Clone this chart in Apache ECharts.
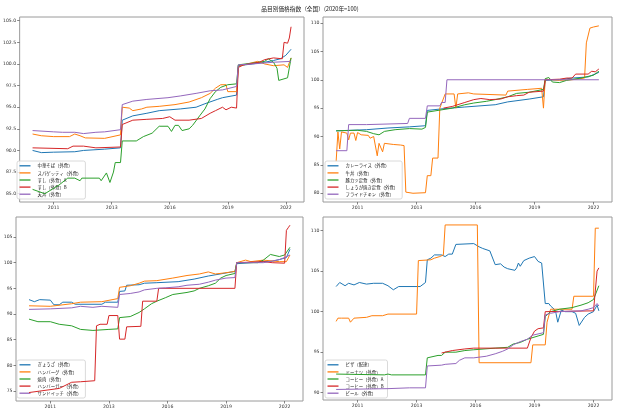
<!DOCTYPE html>
<html><head><meta charset="utf-8">
<script src="https://cdn.jsdelivr.net/npm/echarts@6/dist/echarts.min.js"></script>
<style>html,body{margin:0;padding:0;background:#fff}#c{width:620px;height:413px}</style>
</head><body><div id="c"></div>
<script>
// ---- tick labels ----
const xTickMonths = [12, 45, 78, 111, 144];
const xTickLabels = ['2011', '2013', '2016', '2019', '2022'];
const yTicks1 = [85, 87.5, 90, 92.5, 95, 97.5, 100, 102.5, 105];
const yTicks2 = [80, 85, 90, 95, 100, 105, 110];
const yTicks3 = [75, 80, 85, 90, 95, 100, 105];
const yTicks4 = [90, 95, 100, 105, 110];
const title = '品目別価格指数（全国）(2020年=100)';

// ---- panel 1 ----
const names1 = ['中華そば（外食）', 'スパゲッティ（外食）', 'すし（外食）A', 'すし（外食）B', '天丼（外食）'];
const chukasoba = [['2010-01',90.0],['2010-06',89.75],['2011-01',89.8],['2012-01',89.85],['2012-06',90.0],['2013-06',90.15],['2014-03',90.3],['2014-04',93.5],['2014-10',94.0],['2015-06',94.3],['2016-01',94.6],['2017-01',94.8],['2017-10',95.0],['2018-03',95.4],['2018-10',95.9],['2019-01',96.1],['2019-09',96.4],['2019-10',99.8],['2020-06',100.0],['2021-01',100.2],['2021-06',100.4],['2021-10',100.6],['2022-01',101.0],['2022-04',101.7]];
const spaghetti = [['2010-01',91.9],['2010-06',91.7],['2011-01',91.6],['2011-10',91.6],['2012-01',91.9],['2012-04',91.7],['2012-07',91.45],['2013-06',91.4],['2014-03',91.8],['2014-04',95.0],['2014-08',94.9],['2014-10',94.6],['2015-03',94.8],['2015-06',95.0],['2016-01',95.1],['2016-10',95.3],['2017-06',95.6],['2018-01',96.1],['2018-06',96.6],['2018-09',97.2],['2018-12',97.6],['2019-03',97.6],['2019-04',96.8],['2019-09',96.8],['2019-10',99.7],['2020-03',100.0],['2020-09',100.3],['2021-01',100.0],['2021-06',99.8],['2021-12',99.9],['2022-02',99.6],['2022-04',100.7]];
const sushiA = [['2010-01',85.5],['2010-08',85.0],['2011-04',86.0],['2011-09',86.8],['2012-01',86.8],['2012-04',86.5],['2012-05',86.8],['2013-03',86.8],['2013-04',86.5],['2013-07',87.4],['2013-09',86.3],['2013-11',87.5],['2013-12',88.6],['2014-03',88.6],['2014-04',91.1],['2014-12',91.1],['2015-04',91.6],['2015-09',92.0],['2016-01',92.8],['2016-06',92.8],['2016-08',92.2],['2016-10',92.9],['2016-12',92.9],['2017-02',92.3],['2017-06',92.5],['2017-08',92.9],['2017-12',94.0],['2018-03',94.8],['2018-06',96.0],['2018-09',96.8],['2018-12',97.3],['2019-04',97.6],['2019-09',97.7],['2019-10',99.9],['2020-06',100.1],['2021-01',100.3],['2021-03',100.6],['2021-06',100.2],['2021-08',99.5],['2021-09',98.1],['2021-10',98.3],['2022-02',98.4],['2022-04',100.7]];
const sushiB = [['2010-01',90.3],['2011-09',90.2],['2011-12',90.5],['2012-06',90.5],['2013-01',90.3],['2014-03',90.4],['2014-04',93.0],['2014-10',93.5],['2015-06',93.6],['2016-03',93.7],['2016-07',93.9],['2016-10',93.5],['2017-06',93.5],['2018-01',93.7],['2018-06',94.3],['2018-09',94.6],['2019-01',95.0],['2019-03',94.7],['2019-06',95.0],['2019-09',94.9],['2019-10',99.6],['2020-01',99.9],['2020-10',100.2],['2021-01',100.5],['2021-06',100.7],['2021-11',100.6],['2021-12',102.5],['2022-01',102.3],['2022-02',102.4],['2022-03',103.0],['2022-04',104.3]];
const tendon = [['2010-01',92.3],['2011-01',92.15],['2011-06',92.1],['2012-01',92.1],['2012-06',91.95],['2013-01',92.1],['2013-06',92.15],['2014-03',92.4],['2014-04',95.3],['2014-10',95.7],['2015-06',95.9],['2016-06',96.1],['2017-01',96.3],['2017-10',96.6],['2018-06',96.9],['2019-01',97.0],['2019-09',97.4],['2019-10',99.9],['2020-06',100.0],['2021-06',100.2],['2022-04',100.3]];

// ---- panel 2 ----
const names2 = ['カレーライス（外食）', '牛丼（外食）', '豚カツ定食（外食）', 'しょうが焼き定食（外食）', 'フライドチキン（外食）'];
const curry = [['2010-01',91.0],['2011-06',91.2],['2012-06',91.5],['2013-06',91.7],['2014-03',91.9],['2014-04',94.6],['2015-01',94.9],['2016-01',95.2],['2017-06',95.6],['2018-01',96.1],['2019-01',96.6],['2019-09',97.0],['2019-10',99.9],['2020-06',100.0],['2021-01',100.3],['2021-10',100.5],['2022-04',101.3]];
const gyudon = [['2010-01',85.6],['2010-02',90.8],['2010-03',87.8],['2010-04',90.8],['2010-07',90.6],['2010-08',89.4],['2010-09',90.6],['2010-11',90.6],['2010-12',89.3],['2011-01',90.7],['2011-03',90.3],['2011-07',90.2],['2011-08',89.7],['2011-10',90.0],['2011-11',89.9],['2011-12',86.6],['2012-01',88.8],['2012-02',88.8],['2012-03',87.3],['2012-04',88.8],['2012-09',88.6],['2013-01',88.5],['2013-03',88.4],['2013-04',80.2],['2013-08',80.0],['2014-03',80.1],['2014-04',83.1],['2014-06',83.1],['2014-07',86.2],['2014-10',86.2],['2014-11',95.0],['2014-12',95.3],['2015-02',97.5],['2015-07',97.5],['2015-08',95.0],['2015-09',97.5],['2016-03',97.7],['2016-06',97.5],['2016-07',97.2],['2017-12',97.3],['2018-01',98.0],['2018-12',98.3],['2019-01',98.5],['2019-08',98.5],['2019-09',95.0],['2019-10',100.1],['2020-06',99.9],['2021-01',100.0],['2021-08',100.3],['2021-09',106.5],['2021-10',106.6],['2021-11',109.1],['2022-01',109.3],['2022-04',109.5]];
const tonkatsu = [['2010-01',91.0],['2011-01',91.1],['2011-06',90.9],['2011-10',90.5],['2012-01',90.3],['2012-04',90.9],['2012-10',91.2],['2013-06',91.4],['2014-01',91.3],['2014-03',91.6],['2014-04',94.3],['2014-10',94.6],['2015-06',95.0],['2016-01',95.6],['2016-06',95.9],['2017-01',96.2],['2017-06',96.5],['2018-01',97.0],['2018-06',97.6],['2019-01',97.8],['2019-09',98.3],['2019-10',100.2],['2019-12',100.4],['2020-01',100.7],['2020-02',99.6],['2020-06',99.5],['2020-10',99.9],['2021-06',100.3],['2022-01',100.8],['2022-04',101.5]];
const shogayaki = [['2015-01',95.0],['2015-06',95.3],['2016-01',96.0],['2016-06',96.5],['2016-10',96.7],['2017-03',96.5],['2017-09',96.6],['2018-01',97.0],['2018-06',97.2],['2018-10',97.3],['2019-01',97.8],['2019-09',98.0],['2019-10',100.0],['2020-06',100.1],['2020-10',100.3],['2021-01',100.3],['2021-03',101.0],['2021-10',101.0],['2021-12',101.5],['2022-02',101.4],['2022-04',101.9]];
const friedChicken = [['2010-01',87.5],['2010-07',87.5],['2010-08',92.1],['2011-06',92.1],['2013-05',92.3],['2013-06',93.2],['2014-03',93.2],['2014-04',95.4],['2014-11',95.4],['2014-12',96.0],['2015-02',96.0],['2015-03',100.0],['2022-04',100.0]];

// ---- panel 3 ----
const names3 = ['ぎょうざ（外食）', 'ハンバーグ（外食）', '焼肉（外食）', 'ハンバーガー（外食）', 'サンドイッチ（外食）'];
const gyoza = [['2010-01',92.8],['2010-04',92.4],['2010-07',92.8],['2011-01',92.7],['2011-03',91.8],['2011-06',91.8],['2011-08',92.3],['2012-01',92.3],['2012-03',91.9],['2013-06',91.9],['2013-08',92.3],['2014-03',92.3],['2014-04',94.4],['2014-07',94.5],['2014-08',95.6],['2015-03',95.7],['2015-06',96.0],['2016-01',96.1],['2017-01',96.3],['2017-10',96.8],['2018-06',97.4],['2019-09',98.3],['2019-10',99.8],['2020-06',100.0],['2021-06',100.3],['2021-10',100.6],['2022-02',101.0],['2022-04',102.6]];
const hamburg = [['2010-01',91.6],['2011-01',91.5],['2012-01',92.0],['2012-06',92.3],['2013-06',92.4],['2014-03',93.0],['2014-04',95.2],['2014-10',95.5],['2015-03',96.0],['2015-06',96.4],['2016-01',96.5],['2016-10',97.0],['2017-06',97.5],['2018-01',97.8],['2018-06',98.2],['2018-10',97.8],['2019-03',98.0],['2019-09',98.3],['2019-10',100.0],['2020-03',100.5],['2020-06',100.2],['2021-01',100.5],['2021-10',100.2],['2022-02',100.2],['2022-04',101.5]];
const yakiniku = [['2010-01',89.0],['2010-06',88.5],['2011-01',88.5],['2011-06',88.0],['2012-01',87.7],['2012-06',87.0],['2013-01',86.8],['2013-10',87.0],['2014-03',87.1],['2014-04',89.3],['2014-10',89.5],['2015-03',90.3],['2015-06',91.0],['2015-10',92.0],['2016-01',92.5],['2016-06',93.2],['2016-10',93.8],['2017-06',94.2],['2017-10',94.5],['2018-01',95.0],['2018-06',95.5],['2018-10',96.0],['2019-01',97.0],['2019-04',97.5],['2019-09',97.9],['2019-10',100.0],['2020-10',100.0],['2021-01',100.5],['2021-05',101.6],['2021-10',101.2],['2022-01',101.5],['2022-04',103.0]];
const hamburger = [['2010-01',74.7],['2011-06',75.5],['2012-01',76.7],['2012-06',76.8],['2013-02',77.0],['2013-03',87.7],['2013-05',88.0],['2013-09',88.0],['2013-10',89.7],['2014-03',89.7],['2014-04',85.1],['2014-07',85.1],['2014-08',87.5],['2015-04',87.6],['2015-05',92.5],['2016-01',92.5],['2016-02',95.0],['2019-09',95.0],['2019-10',100.0],['2021-01',100.2],['2021-06',100.0],['2022-01',99.9],['2022-02',106.3],['2022-03',106.8],['2022-04',107.3]];
const sandwich = [['2010-01',90.9],['2011-01',91.0],['2012-01',91.2],['2012-06',91.5],['2013-01',91.3],['2013-06',91.5],['2014-03',91.3],['2014-04',93.8],['2014-10',94.0],['2015-03',94.3],['2015-06',94.7],['2016-01',95.0],['2016-06',95.1],['2017-01',95.3],['2017-06',95.6],['2018-01',95.8],['2018-06',96.2],['2018-10',96.6],['2019-04',97.0],['2019-09',97.1],['2019-10',100.0],['2021-01',100.0],['2021-06',100.3],['2021-10',100.6],['2022-01',101.0],['2022-04',101.5]];

// ---- panel 4 ----
const names4 = ['ピザ（配達）', 'ドーナツ（外食）', 'コーヒー（外食）A', 'コーヒー（外食）B', 'ビール（外食）'];
const pizza = [['2010-01',103.1],['2010-03',103.6],['2010-06',103.2],['2010-08',103.5],['2010-11',103.3],['2011-02',103.6],['2011-06',103.4],['2011-10',103.5],['2012-03',103.5],['2012-06',103.2],['2012-09',102.7],['2012-12',103.1],['2013-12',103.1],['2014-01',103.0],['2014-03',103.6],['2014-04',106.4],['2014-06',106.6],['2014-08',107.0],['2014-12',107.0],['2015-02',106.8],['2015-04',107.1],['2015-06',107.1],['2015-08',108.3],['2016-06',108.4],['2016-09',108.0],['2016-11',107.8],['2017-03',107.5],['2017-06',105.8],['2017-09',105.9],['2017-11',105.5],['2018-01',105.3],['2018-05',105.1],['2018-06',105.4],['2018-07',106.0],['2018-08',105.6],['2018-10',106.3],['2019-01',106.6],['2019-04',106.8],['2019-05',107.0],['2019-06',106.2],['2019-08',106.0],['2019-10',101.0],['2019-12',101.0],['2020-01',100.7],['2020-03',100.3],['2020-04',99.8],['2020-05',98.7],['2020-07',100.2],['2020-09',100.0],['2021-01',100.0],['2021-03',99.8],['2021-05',98.3],['2021-08',99.3],['2021-10',99.7],['2022-01',100.0],['2022-03',100.8],['2022-04',100.1]];
const donut = [['2010-01',98.8],['2010-02',99.2],['2010-03',99.0],['2010-04',99.2],['2010-08',99.2],['2010-09',98.7],['2010-11',99.2],['2011-06',99.3],['2011-07',99.5],['2011-09',99.5],['2011-10',99.4],['2012-03',99.5],['2012-06',99.7],['2013-10',99.7],['2013-11',106.3],['2014-06',106.4],['2014-08',106.6],['2014-11',106.8],['2015-01',107.0],['2015-02',110.7],['2016-08',110.7],['2016-09',93.7],['2019-02',93.7],['2019-03',95.9],['2019-10',95.9],['2019-11',98.7],['2019-12',98.9],['2020-01',100.3],['2021-01',100.3],['2021-02',101.9],['2022-01',101.9],['2022-02',110.3],['2022-04',110.3]];
const coffeeA = [['2010-01',92.3],['2012-04',92.2],['2012-06',92.3],['2012-08',92.2],['2014-03',92.2],['2014-04',94.3],['2014-10',94.6],['2014-12',94.6],['2015-02',95.0],['2015-08',95.0],['2016-01',95.2],['2016-06',95.3],['2017-06',95.5],['2018-01',95.6],['2018-04',96.0],['2018-08',96.2],['2018-12',96.6],['2019-06',97.0],['2019-09',97.2],['2019-10',99.4],['2020-01',100.0],['2020-06',100.3],['2021-01',100.5],['2021-06',100.8],['2021-10',101.1],['2022-01',101.5],['2022-04',103.2]];
const coffeeB = [['2014-12',94.9],['2015-06',95.2],['2016-01',95.4],['2016-06',95.5],['2018-12',95.5],['2019-02',96.8],['2019-04',97.6],['2019-06',97.9],['2019-09',98.0],['2019-10',100.0],['2022-01',100.1],['2022-02',100.3],['2022-03',105.0],['2022-04',105.4]];
const beer = [['2010-01',90.4],['2012-06',90.5],['2013-06',90.6],['2014-03',90.6],['2014-04',93.3],['2014-12',93.4],['2015-02',93.5],['2015-08',93.6],['2015-10',94.0],['2016-01',94.3],['2016-06',94.3],['2017-01',94.5],['2017-06',94.8],['2017-10',95.1],['2018-01',95.4],['2018-04',95.9],['2018-08',96.3],['2018-12',96.6],['2019-03',97.1],['2019-09',97.4],['2019-10',99.6],['2020-01',99.8],['2020-06',100.0],['2021-06',100.1],['2021-10',100.3],['2022-01',100.5],['2022-03',101.0],['2022-04',100.7]];

// ---------------- build ----------------
const colors = ['#1f77b4', '#ff7f0e', '#2ca02c', '#d62728', '#9467bd'];
function toIdx(s) { const p = s.split('-'); return (parseInt(p[0]) - 2010) * 12 + (parseInt(p[1]) - 1); }
function conv(arr) { return arr.map(d => [toIdx(d[0]), d[1]]); }

const panels = [
  { names: names1, data: [chukasoba, spaghetti, sushiA, sushiB, tendon], yTicks: yTicks1, yMin: 84.04, yMax: 105.43, dec: 1,
    grid: { left: 16, top: 17, width: 288, height: 185 }, legend: { left: 17, top: 161 } },
  { names: names2, data: [curry, gyudon, tonkatsu, shogayaki, friedChicken], yTicks: yTicks2, yMin: 78.46, yMax: 111.06, dec: 0,
    grid: { left: 323, top: 17, width: 289, height: 185 }, legend: { left: 325, top: 161 } },
  { names: names3, data: [gyoza, hamburg, yakiniku, hamburger, sandwich], yTicks: yTicks3, yMin: 73.05, yMax: 108.9, dec: 0,
    grid: { left: 16, top: 217, width: 287, height: 184 }, legend: { left: 17, top: 360 } },
  { names: names4, data: [pizza, donut, coffeeA, coffeeB, beer], yTicks: yTicks4, yMin: 89.1, yMax: 111.68, dec: 0,
    grid: { left: 323, top: 217, width: 289, height: 183 }, legend: { left: 325, top: 360 } }
];

const font = 'DejaVu Sans';
const cjk = '"Noto Sans CJK JP", "DejaVu Sans"';
const option = {
  animation: false,
  backgroundColor: '#fff',
  title: { text: title, left: 'center', top: 1, textStyle: { fontSize: 5.7, fontWeight: 'normal', color: '#222', fontFamily: cjk } },
  grid: [], xAxis: [], yAxis: [], series: [], legend: []
};
panels.forEach((p, i) => {
  option.grid.push(Object.assign({ show: true, borderColor: '#9a9a9a', borderWidth: 1, backgroundColor: 'transparent' }, p.grid));
  option.xAxis.push({
    type: 'value', gridIndex: i, min: -7.35, max: 154.35, position: 'bottom',
    splitLine: { show: false }, axisLine: { show: false, onZero: false },
    axisTick: { show: true, length: 2.5, lineStyle: { color: '#666', width: 0.8 }, customValues: xTickMonths },
    axisLabel: { fontSize: 4.6, color: '#333', fontFamily: font, margin: 3.5, customValues: xTickMonths,
      formatter: v => { const k = xTickMonths.indexOf(Math.round(v)); return k >= 0 ? xTickLabels[k] : ''; } }
  });
  option.yAxis.push({
    type: 'value', gridIndex: i, min: p.yMin, max: p.yMax, position: 'left',
    splitLine: { show: false }, axisLine: { show: false, onZero: false },
    axisTick: { show: true, length: 2.5, lineStyle: { color: '#666', width: 0.8 }, customValues: p.yTicks },
    axisLabel: { fontSize: 4.6, color: '#333', fontFamily: font, margin: 3.5, customValues: p.yTicks,
      formatter: v => v.toFixed(p.dec) }
  });
  p.data.forEach((d, j) => {
    option.series.push({
      type: 'line', name: p.names[j], xAxisIndex: i, yAxisIndex: i, data: conv(d),
      showSymbol: false, symbol: 'none', color: colors[j], lineStyle: { width: 1, color: colors[j] }, z: 2 + j
    });
  });
  option.legend.push({
    data: p.names, orient: 'vertical', left: p.legend.left, top: p.legend.top,
    icon: 'rect', itemWidth: 11, itemHeight: 1.3, itemGap: 2.5,
    padding: [2.5, 4, 2.5, 2.5], backgroundColor: 'rgba(255,255,255,0.8)', borderColor: '#d0d0d0', borderWidth: 0.8, borderRadius: 2,
    textStyle: { fontSize: 4.4, color: '#222', fontFamily: cjk, lineHeight: 4.6, padding: [0, 0, 0, 2] },
    selectedMode: false
  });
});
const chart = echarts.init(document.getElementById('c'), null, { renderer: 'canvas' });
chart.setOption(option);
</script></body></html>
